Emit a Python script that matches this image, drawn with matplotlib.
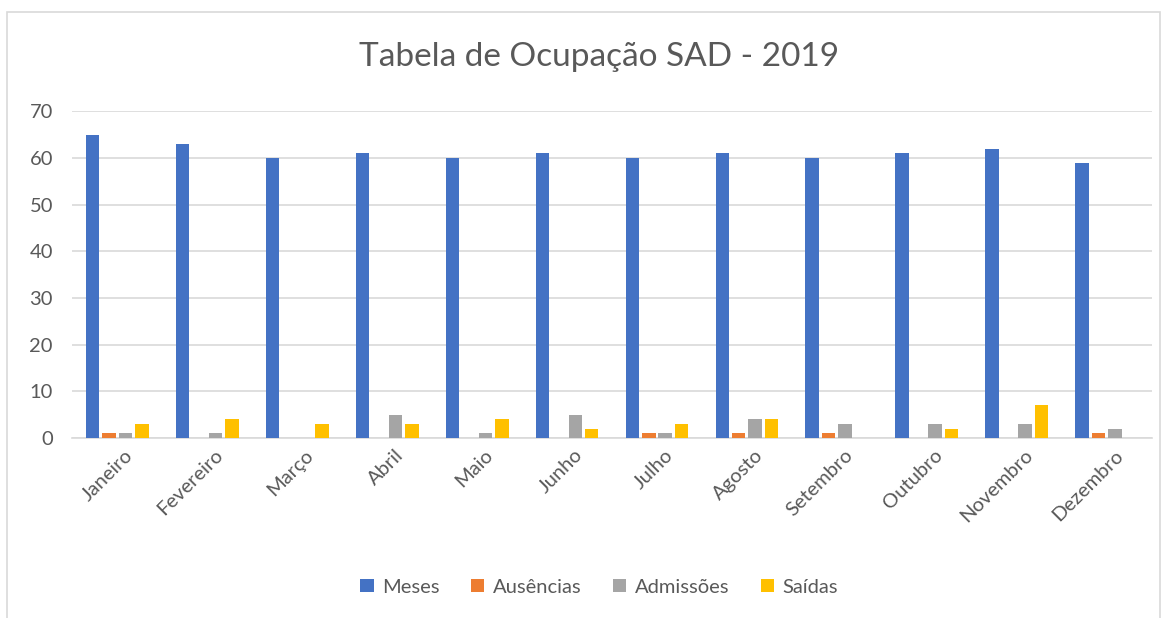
import matplotlib
matplotlib.use("Agg")
import matplotlib.pyplot as plt
import numpy as np
from matplotlib.patches import Rectangle

plt.rcParams['font.family'] = ['Lato', 'DejaVu Sans']

months = ["Janeiro", "Fevereiro", "Março", "Abril", "Maio", "Junho", "Julho",
          "Agosto", "Setembro", "Outubro", "Novembro", "Dezembro"]
meses = [65, 63, 60, 61, 60, 61, 60, 61, 60, 61, 62, 59]
ausencias = [1, 0, 0, 0, 0, 0, 1, 1, 1, 0, 0, 1]
admissoes = [1, 1, 0, 5, 1, 5, 1, 4, 3, 3, 3, 2]
saidas = [3, 4, 3, 3, 4, 2, 3, 4, 0, 2, 7, 0]
series_names = ["Meses", "Ausências", "Admissões", "Saídas"]
colors = ["#4472C4", "#ED7D31", "#A5A5A5", "#FFC000"]
yticks = [0, 10, 20, 30, 40, 50, 60, 70]

fig = plt.figure(figsize=(11.68, 6.18), dpi=100)
ax = fig.add_axes([0.062, 0.291, 0.924, 0.529])

x = np.arange(len(months))
step = 0.183
width = 0.15
for i, (vals, name, c) in enumerate(zip([meses, ausencias, admissoes, saidas], series_names, colors)):
    ax.bar(x + (i - 1.5) * step, vals, width, color=c, label=name, zorder=3)

ax.set_xlim(-0.5, len(months) - 0.5)
ax.set_ylim(0, 70)
ax.set_yticks(yticks)
ax.yaxis.grid(True, color="#D9D9D9", linewidth=1.2, zorder=0)
for s in ["top", "right", "left"]:
    ax.spines[s].set_visible(False)
ax.spines["bottom"].set_color("#D9D9D9")
ax.spines["bottom"].set_linewidth(1.2)
ax.tick_params(axis="both", length=0, labelsize=14.5, colors="#595959")
ax.tick_params(axis="y", pad=14)
ax.tick_params(axis="x", pad=6)
ax.set_xticks(x + 0.08)
ax.set_xticklabels(months, rotation=45, ha="right", rotation_mode="anchor")

fig.text(0.513, 0.908, "Tabela de Ocupação SAD - 2019", ha="center", va="center",
         fontsize=24, color="#595959")

fig.legend(loc="center", bbox_to_anchor=(0.513, 0.05), ncol=4, frameon=False,
           fontsize=14.5, labelcolor="#595959", handlelength=0.65, handleheight=0.65,
           columnspacing=1.6, handletextpad=0.4)

fig.patches.append(Rectangle((7 / 1168, -0.01), 1153 / 1168, 1 - 12 / 618 + 0.01,
                             transform=fig.transFigure, fill=False,
                             edgecolor="#D9D9D9", linewidth=1.2))

fig.savefig("out.png", dpi=100)
